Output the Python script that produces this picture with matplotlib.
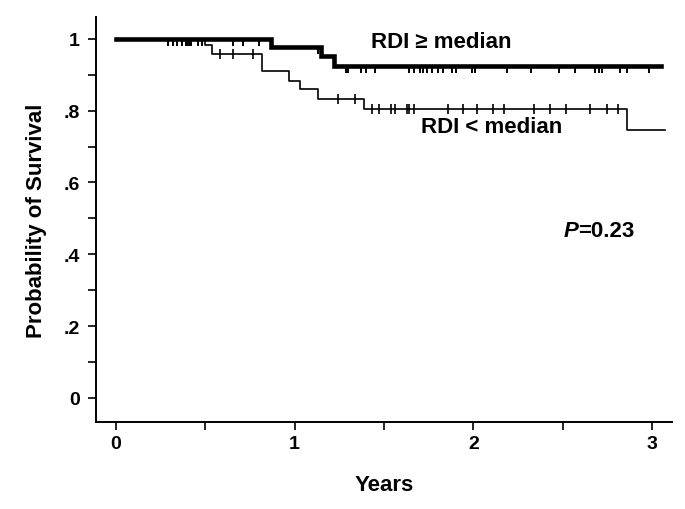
import numpy as np
import matplotlib
matplotlib.use("Agg")
import matplotlib.pyplot as plt
from matplotlib.ticker import MultipleLocator, FixedLocator

plt.rcParams['font.family'] = ['Liberation Sans', 'DejaVu Sans']
plt.rcParams['font.weight'] = 'bold'

# ---- data ----
hi_step_times = [0.0, 0.87, 1.15, 1.22]
hi_step_surv = [1.0, 0.976, 0.952, 0.924]
hi_end = 3.05
hi_censor = [0.29, 0.32, 0.34, 0.37, 0.39, 0.40, 0.41, 0.42, 0.46, 0.48,
             0.655, 0.71, 0.80, 1.13, 1.29, 1.30, 1.37, 1.40, 1.45, 1.64,
             1.67, 1.70, 1.72, 1.74, 1.77, 1.80, 1.83, 1.88, 1.90, 1.99,
             2.01, 2.19, 2.32, 2.48, 2.57, 2.68, 2.70, 2.72, 2.82, 2.86, 2.98]

lo_step_times = [0.0, 0.50, 0.535, 0.82, 0.97, 1.03, 1.13, 1.39, 2.86]
lo_step_surv = [1.0, 0.983, 0.957, 0.909, 0.883, 0.860, 0.832, 0.805, 0.745]
lo_end = 3.07
lo_censor = [0.58, 0.655, 0.765, 1.245, 1.34, 1.43, 1.47, 1.54, 1.56, 1.63,
             1.64, 1.665, 1.86, 1.94, 2.02, 2.11, 2.17, 2.34, 2.43, 2.52,
             2.65, 2.75, 2.81]

x_ticks = [0, 1, 2, 3]
y_ticks = [0, 0.2, 0.4, 0.6, 0.8, 1.0]
y_tick_labels = ['0', '.2', '.4', '.6', '.8', '1']

label_hi = 'RDI \u2265 median'
label_lo = 'RDI < median'
p_text = 'P'
p_value = '=0.23'


def surv_at(times, surv, t):
    idx = np.searchsorted(times, t, side='right') - 1
    return np.asarray(surv)[idx]


fig = plt.figure(figsize=(6.85, 5.1), dpi=100)
ax = fig.add_axes([0.140, 0.1706, 0.841, 0.7944])

# high RDI (thick)
hx = list(hi_step_times) + [hi_end]
hy = list(hi_step_surv) + [hi_step_surv[-1]]
ax.step(hx, hy, where='post', color='black', lw=3.3, solid_joinstyle='miter')
hs = surv_at(hi_step_times, hi_step_surv, np.array(hi_censor))
ax.vlines(hi_censor, hs, hs - 0.019, color='black', lw=1.4)

# low RDI (thin)
lx = list(lo_step_times) + [lo_end]
ly = list(lo_step_surv) + [lo_step_surv[-1]]
ax.step(lx, ly, where='post', color='black', lw=1.2)
ls = surv_at(lo_step_times, lo_step_surv, np.array(lo_censor))
ax.plot(lo_censor, ls, ls='none', marker='|', ms=7.5, mew=1.2, color='black')

ax.set_xlim(-0.112, 3.111)
ax.set_ylim(-0.067, 1.061)

for s in ['top', 'right']:
    ax.spines[s].set_visible(False)
for s in ['left', 'bottom']:
    ax.spines[s].set_linewidth(1.4)

ax.xaxis.set_major_locator(FixedLocator(x_ticks))
ax.xaxis.set_minor_locator(MultipleLocator(0.5))
ax.yaxis.set_major_locator(FixedLocator(y_ticks))
ax.yaxis.set_minor_locator(MultipleLocator(0.1))
ax.set_xticklabels([str(v) for v in x_ticks])
ax.set_yticklabels(y_tick_labels)
ax.tick_params(which='both', direction='out', length=5.5, width=1.2, labelsize=14)
ax.tick_params(axis='x', which='major', pad=4)
ax.tick_params(axis='y', which='major', pad=6)
for lab in ax.get_xticklabels() + ax.get_yticklabels():
    lab.set_fontweight('bold')

ax.set_xlabel('Years', fontsize=16, fontweight='bold', labelpad=16)
ax.set_ylabel('Probability of Survival', fontsize=16, fontweight='bold', labelpad=12)

ax.text(1.82, 0.992, label_hi, fontsize=16, fontweight='bold', ha='center', va='center')
ax.text(2.10, 0.755, label_lo, fontsize=16, fontweight='bold', ha='center', va='center')
t1 = ax.text(2.505, 0.465, p_text, fontsize=16, fontweight='bold', fontstyle='italic',
             ha='left', va='center')
ax.annotate(p_value, xy=(1, 0.5), xycoords=t1, fontsize=16, fontweight='bold',
            ha='left', va='center')

fig.savefig('out.png', dpi=100)
